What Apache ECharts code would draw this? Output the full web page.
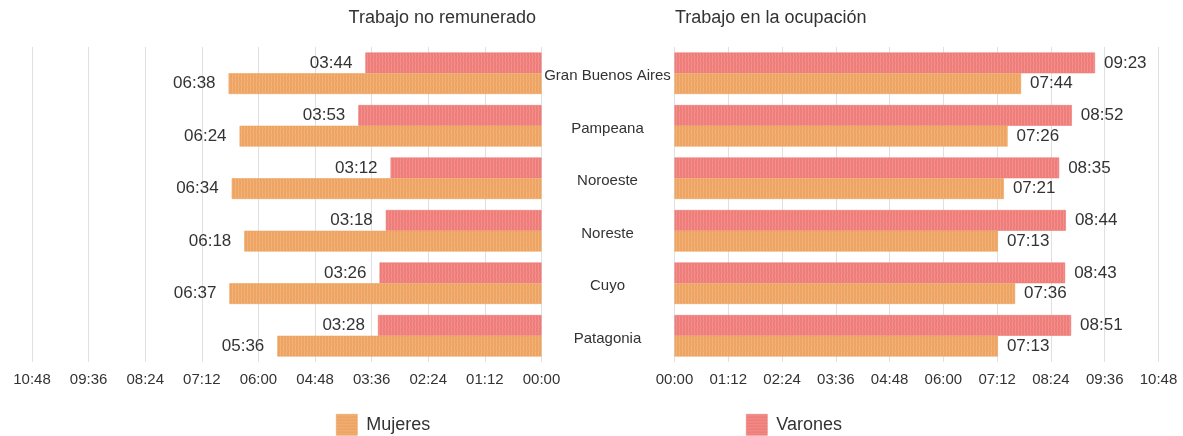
<!DOCTYPE html>
<html>
<head>
<meta charset="utf-8">
<script src="https://cdn.jsdelivr.net/npm/echarts@6/dist/echarts.min.js"></script>
<style>
  html, body { margin: 0; padding: 0; background: #ffffff; }
  #chart { width: 1183px; height: 436px; }
</style>
</head>
<body>
<div id="chart"></div>
<script>
// Regions
const categories = ['Gran Buenos Aires', 'Pampeana', 'Noroeste', 'Noreste', 'Cuyo', 'Patagonia'];

// Average daily time in minutes
const unpaidVarones = [224, 233, 192, 198, 206, 208];
const unpaidMujeres = [398, 384, 394, 378, 397, 336];
const paidVarones = [563, 532, 515, 524, 523, 531];
const paidMujeres = [464, 446, 441, 433, 456, 433];

// Axis range: 00:00 to 10:48, one tick every 01:12
const axisMax = 648;
const axisStep = 72;

const titles = ['Trabajo no remunerado', 'Trabajo en la ocupación'];
const seriesNames = ['Mujeres', 'Varones'];

const FONT = '"Liberation Sans", Arial, sans-serif';

function hhmm(v) {
  const m = Math.round(v);
  const h = Math.floor(m / 60);
  const r = m % 60;
  return String(h).padStart(2, '0') + ':' + String(r).padStart(2, '0');
}

// Zigzag hatched fill used for the bars
function zigzag(base, line, horizontal) {
  const c = document.createElement('canvas');
  const w = 3, h = 6;
  c.width = horizontal ? h : w;
  c.height = horizontal ? w : h;
  const g = c.getContext('2d');
  g.fillStyle = base;
  g.fillRect(0, 0, c.width, c.height);
  g.strokeStyle = line;
  g.lineWidth = 0.7;
  g.beginPath();
  if (!horizontal) {
    g.moveTo(1, 0); g.lineTo(2, 3); g.lineTo(1, 6);
  } else {
    g.moveTo(0, 1); g.lineTo(3, 2); g.lineTo(6, 1);
  }
  g.stroke();
  return { image: c, repeat: 'repeat' };
}

const orangeBase = '#eda260';
const orangeLine = '#f4bf8c';
const redBase = '#ee7b77';
const redLine = '#f4a19e';

const fillMujeres = zigzag(orangeBase, orangeLine, false);
const fillVarones = zigzag(redBase, redLine, false);
const legendMujeres = zigzag(orangeBase, orangeLine, true);
const legendVarones = zigzag(redBase, redLine, true);

const chart = echarts.init(document.getElementById('chart'), null, { renderer: 'canvas' });

const axisLabelStyle = { fontFamily: FONT, fontSize: 15, color: '#333333', margin: 10, formatter: hhmm };
const splitLineStyle = { show: true, lineStyle: { color: '#e0e0e0', width: 1 } };

function valueAxis(gridIndex, inverse) {
  return {
    type: 'value', gridIndex: gridIndex, inverse: inverse,
    min: 0, max: axisMax, interval: axisStep,
    axisLine: { show: false }, axisTick: { show: false },
    splitLine: splitLineStyle,
    axisLabel: axisLabelStyle
  };
}

function barSeries(name, data, axisIdx, fill, lineColor, pos, dist) {
  return {
    name: name, type: 'bar', xAxisIndex: axisIdx, yAxisIndex: axisIdx,
    data: data,
    barGap: '0%', barCategoryGap: '21%',
    itemStyle: { color: fill, borderColor: lineColor, borderWidth: 0.6 },
    label: {
      show: true, position: pos, distance: dist,
      fontFamily: FONT, fontSize: 17, color: '#333333',
      formatter: p => hhmm(p.value)
    },
    emphasis: { disabled: true },
    animation: false
  };
}

const legendText = { fontFamily: FONT, fontSize: 18, color: '#333333', padding: [0, 0, 0, 4] };
const titleText = { fontFamily: FONT, fontSize: 18, fontWeight: 'normal', color: '#333333' };

chart.setOption({
  backgroundColor: '#ffffff',
  animation: false,
  title: [
    { text: titles[0], right: 647, top: 9, padding: 0, textStyle: titleText },
    { text: titles[1], left: 675, top: 9, padding: 0, textStyle: titleText }
  ],
  legend: [
    { data: [{ name: seriesNames[0], itemStyle: { color: legendMujeres, borderColor: orangeBase, borderWidth: 0.6 } }],
      left: 336, top: 414, padding: 0, itemWidth: 21, itemHeight: 21, icon: 'rect', selectedMode: false, textStyle: legendText },
    { data: [{ name: seriesNames[1], itemStyle: { color: legendVarones, borderColor: redBase, borderWidth: 0.6 } }],
      left: 746, top: 414, padding: 0, itemWidth: 21, itemHeight: 21, icon: 'rect', selectedMode: false, textStyle: legendText }
  ],
  grid: [
    { left: 32, right: 641.5, top: 47, bottom: 74, containLabel: false },
    { left: 674.5, right: 24.5, top: 47, bottom: 74, containLabel: false }
  ],
  xAxis: [valueAxis(0, true), valueAxis(1, false)],
  yAxis: [
    { type: 'category', gridIndex: 0, data: categories, inverse: true,
      axisLine: { show: false }, axisTick: { show: false }, axisLabel: { show: false }, splitLine: { show: false } },
    { type: 'category', gridIndex: 1, data: categories, inverse: true,
      axisLine: { show: false }, axisTick: { show: false }, splitLine: { show: false },
      axisLabel: {
        margin: 67, align: 'center',
        formatter: v => '{r|' + v + '}',
        rich: { r: { fontFamily: FONT, fontSize: 15, color: '#333333', padding: [6, 0, 0, 0] } }
      } }
  ],
  series: [
    barSeries(seriesNames[1], unpaidVarones, 0, fillVarones, redBase, 'left', 13),
    barSeries(seriesNames[0], unpaidMujeres, 0, fillMujeres, orangeBase, 'left', 13),
    barSeries(seriesNames[1], paidVarones, 1, fillVarones, redBase, 'right', 9),
    barSeries(seriesNames[0], paidMujeres, 1, fillMujeres, orangeBase, 'right', 9)
  ]
});
</script>
</body>
</html>
